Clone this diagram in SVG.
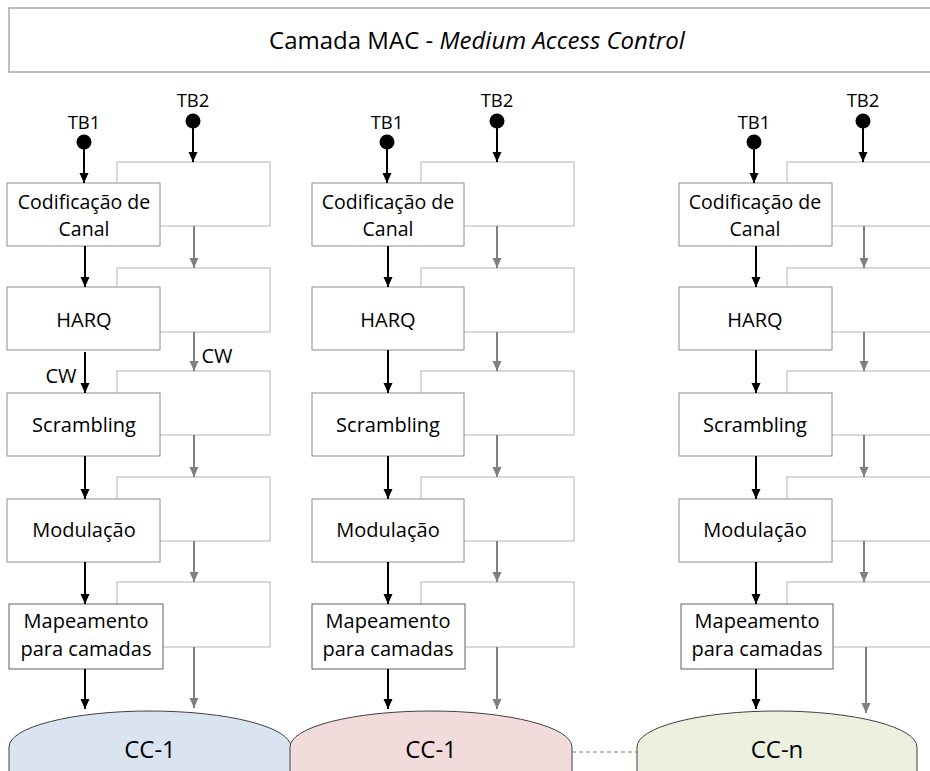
<svg xmlns="http://www.w3.org/2000/svg" width="930" height="771" viewBox="0 0 930 771">
<style>
text{font-family:"Open Sans","Noto Sans","Liberation Sans",sans-serif;fill:#000;text-anchor:middle}
.lbl{font-size:20px}
.lbl2{font-size:19.5px}
.tb{font-size:18.5px}
.cc{font-size:24px}
.title{font-size:24px}
.back{fill:#fff;stroke:#b4b4b4;stroke-width:1}
.front{fill:#fff;stroke:#8c8c8c;stroke-width:1}
.map{fill:#fff;stroke:#606060;stroke-width:1}
.dome{stroke:#404040;stroke-width:1}
.blk{stroke:#000;stroke-width:2;fill:none;marker-end:url(#ab)}
.gry{stroke:#808080;stroke-width:2;fill:none;marker-end:url(#ag)}
.dot{fill:#000}
</style>
<defs>
<marker id="ab" markerUnits="userSpaceOnUse" markerWidth="10" markerHeight="10" refX="10" refY="4.5" orient="auto"><path d="M0,0 L10,4.5 L0,9 z" fill="#000"/></marker>
<marker id="ag" markerUnits="userSpaceOnUse" markerWidth="10" markerHeight="10" refX="10" refY="4.5" orient="auto"><path d="M0,0 L10,4.5 L0,9 z" fill="#808080"/></marker>
</defs>

<g id="mac">
<rect x="9" y="8" width="930" height="64" fill="#fff" stroke="#7f7f7f" stroke-width="1"/>
<text class="title" x="477" y="49">Camada MAC - <tspan font-style="italic">Medium Access Control</tspan></text>
</g>

<!-- Column 1 -->
<g id="c1-tb1"><circle class="dot" cx="84" cy="142" r="7.5"/><text class="tb" x="84" y="129">TB1</text></g>
<g id="c1-tb2"><circle class="dot" cx="193" cy="121" r="7.5"/><text class="tb" x="193" y="107">TB2</text></g>
<g id="c1-b1"><rect class="back" x="117" y="162" width="153" height="64"/></g>
<g id="c1-f1"><rect class="front" x="7" y="183" width="153" height="63"/><text class="lbl2" x="84" y="209">Codificação de</text><text class="lbl2" x="84" y="236">Canal</text></g>
<g id="c1-b2"><rect class="back" x="117" y="268" width="153" height="64"/></g>
<g id="c1-f2"><rect class="front" x="7" y="287" width="153" height="63"/><text class="lbl" x="84" y="327">HARQ</text></g>
<g id="c1-b3"><rect class="back" x="117" y="371" width="153" height="64"/></g>
<g id="c1-f3"><rect class="front" x="7" y="393" width="153" height="63"/><text class="lbl" x="84" y="432">Scrambling</text></g>
<g id="c1-b4"><rect class="back" x="117" y="477" width="153" height="64"/></g>
<g id="c1-f4"><rect class="front" x="7" y="499" width="153" height="63"/><text class="lbl" x="84" y="537">Modulação</text></g>
<g id="c1-b5"><rect class="back" x="117" y="582" width="153" height="65"/></g>
<g id="c1-f5"><rect class="map" x="9" y="604" width="154" height="65"/><text class="lbl" x="86" y="628">Mapeamento</text><text class="lbl" x="86" y="656">para camadas</text></g>

<!-- Column 2 -->
<g id="c2-tb1"><circle class="dot" cx="387" cy="142" r="7.5"/><text class="tb" x="387" y="129">TB1</text></g>
<g id="c2-tb2"><circle class="dot" cx="497" cy="121" r="7.5"/><text class="tb" x="497" y="107">TB2</text></g>
<g id="c2-b1"><rect class="back" x="421" y="162" width="153" height="64"/></g>
<g id="c2-f1"><rect class="front" x="312" y="183" width="152" height="63"/><text class="lbl2" x="388" y="209">Codificação de</text><text class="lbl2" x="388" y="236">Canal</text></g>
<g id="c2-b2"><rect class="back" x="421" y="268" width="153" height="64"/></g>
<g id="c2-f2"><rect class="front" x="312" y="287" width="152" height="63"/><text class="lbl" x="388" y="327">HARQ</text></g>
<g id="c2-b3"><rect class="back" x="421" y="371" width="153" height="64"/></g>
<g id="c2-f3"><rect class="front" x="312" y="393" width="152" height="63"/><text class="lbl" x="388" y="432">Scrambling</text></g>
<g id="c2-b4"><rect class="back" x="421" y="477" width="153" height="64"/></g>
<g id="c2-f4"><rect class="front" x="312" y="499" width="152" height="63"/><text class="lbl" x="388" y="537">Modulação</text></g>
<g id="c2-b5"><rect class="back" x="421" y="582" width="153" height="65"/></g>
<g id="c2-f5"><rect class="map" x="312" y="604" width="153" height="65"/><text class="lbl" x="388" y="628">Mapeamento</text><text class="lbl" x="388" y="656">para camadas</text></g>

<!-- Column 3 -->
<g id="c3-tb1"><circle class="dot" cx="754" cy="142" r="7.5"/><text class="tb" x="754" y="129">TB1</text></g>
<g id="c3-tb2"><circle class="dot" cx="863" cy="121" r="7.5"/><text class="tb" x="863" y="107">TB2</text></g>
<g id="c3-b1"><rect class="back" x="787" y="162" width="153" height="64"/></g>
<g id="c3-f1"><rect class="front" x="679" y="183" width="153" height="63"/><text class="lbl2" x="755" y="209">Codificação de</text><text class="lbl2" x="755" y="236">Canal</text></g>
<g id="c3-b2"><rect class="back" x="787" y="268" width="153" height="64"/></g>
<g id="c3-f2"><rect class="front" x="679" y="287" width="153" height="63"/><text class="lbl" x="755" y="327">HARQ</text></g>
<g id="c3-b3"><rect class="back" x="787" y="371" width="153" height="64"/></g>
<g id="c3-f3"><rect class="front" x="679" y="393" width="153" height="63"/><text class="lbl" x="755" y="432">Scrambling</text></g>
<g id="c3-b4"><rect class="back" x="787" y="477" width="153" height="64"/></g>
<g id="c3-f4"><rect class="front" x="679" y="499" width="153" height="63"/><text class="lbl" x="755" y="537">Modulação</text></g>
<g id="c3-b5"><rect class="back" x="787" y="582" width="153" height="65"/></g>
<g id="c3-f5"><rect class="map" x="681" y="604" width="152" height="65"/><text class="lbl" x="757" y="628">Mapeamento</text><text class="lbl" x="757" y="656">para camadas</text></g>

<!-- Component carriers -->
<g id="cc1a"><path class="dome" fill="#dae3f0" d="M9,775 V747 A141,36 0 0 1 291,747 V775 Z"/><text class="cc" x="150" y="758">CC-1</text></g>
<g id="cc1b"><path class="dome" fill="#f2dcdb" d="M290,775 V747 A141,36 0 0 1 572,747 V775 Z"/><text class="cc" x="431" y="758">CC-1</text></g>
<g id="ccn"><path class="dome" fill="#ebf1de" d="M637,775 V747 A140,36 0 0 1 917,747 V775 Z"/><text class="cc" x="777" y="758">CC-n</text></g>

<g id="connectors">
<!-- column 1 -->
<line class="blk" x1="84" y1="149" x2="84" y2="183"/>
<line class="blk" x1="193" y1="128" x2="193" y2="162"/>
<line class="blk" x1="85" y1="246" x2="85" y2="287"/>
<line class="blk" x1="85" y1="352" x2="85" y2="393"/>
<line class="blk" x1="85" y1="456" x2="85" y2="499"/>
<line class="blk" x1="85" y1="562" x2="85" y2="604"/>
<line class="blk" x1="85" y1="669" x2="85" y2="709"/>
<line class="gry" x1="194" y1="226" x2="194" y2="268"/>
<line class="gry" x1="194" y1="332" x2="194" y2="371"/>
<line class="gry" x1="194" y1="435" x2="194" y2="477"/>
<line class="gry" x1="194" y1="541" x2="194" y2="582"/>
<line class="gry" x1="194" y1="647" x2="194" y2="708"/>
<!-- column 2 -->
<line class="blk" x1="387" y1="149" x2="387" y2="183"/>
<line class="blk" x1="497" y1="128" x2="497" y2="162"/>
<line class="blk" x1="388" y1="246" x2="388" y2="287"/>
<line class="blk" x1="388" y1="350" x2="388" y2="393"/>
<line class="blk" x1="388" y1="456" x2="388" y2="499"/>
<line class="blk" x1="388" y1="562" x2="388" y2="604"/>
<line class="blk" x1="388" y1="669" x2="388" y2="709"/>
<line class="gry" x1="497" y1="226" x2="497" y2="268"/>
<line class="gry" x1="497" y1="332" x2="497" y2="371"/>
<line class="gry" x1="497" y1="435" x2="497" y2="477"/>
<line class="gry" x1="497" y1="541" x2="497" y2="582"/>
<line class="gry" x1="497" y1="647" x2="497" y2="709"/>
<!-- column 3 -->
<line class="blk" x1="754" y1="149" x2="754" y2="183"/>
<line class="blk" x1="863" y1="128" x2="863" y2="162"/>
<line class="blk" x1="756" y1="246" x2="756" y2="287"/>
<line class="blk" x1="756" y1="350" x2="756" y2="393"/>
<line class="blk" x1="756" y1="456" x2="756" y2="499"/>
<line class="blk" x1="756" y1="562" x2="756" y2="604"/>
<line class="blk" x1="756" y1="669" x2="756" y2="709"/>
<line class="gry" x1="864" y1="226" x2="864" y2="268"/>
<line class="gry" x1="864" y1="332" x2="864" y2="371"/>
<line class="gry" x1="864" y1="435" x2="864" y2="477"/>
<line class="gry" x1="864" y1="541" x2="864" y2="582"/>
<line class="gry" x1="866" y1="647" x2="866" y2="713"/>
<!-- carrier link -->
<line x1="572" y1="752" x2="637" y2="752" stroke="#7f7f7f" stroke-width="1" stroke-dasharray="4,3"/>
<text class="lbl" x="61" y="383">CW</text>
<text class="lbl" x="217" y="363">CW</text>
</g>
</svg>
